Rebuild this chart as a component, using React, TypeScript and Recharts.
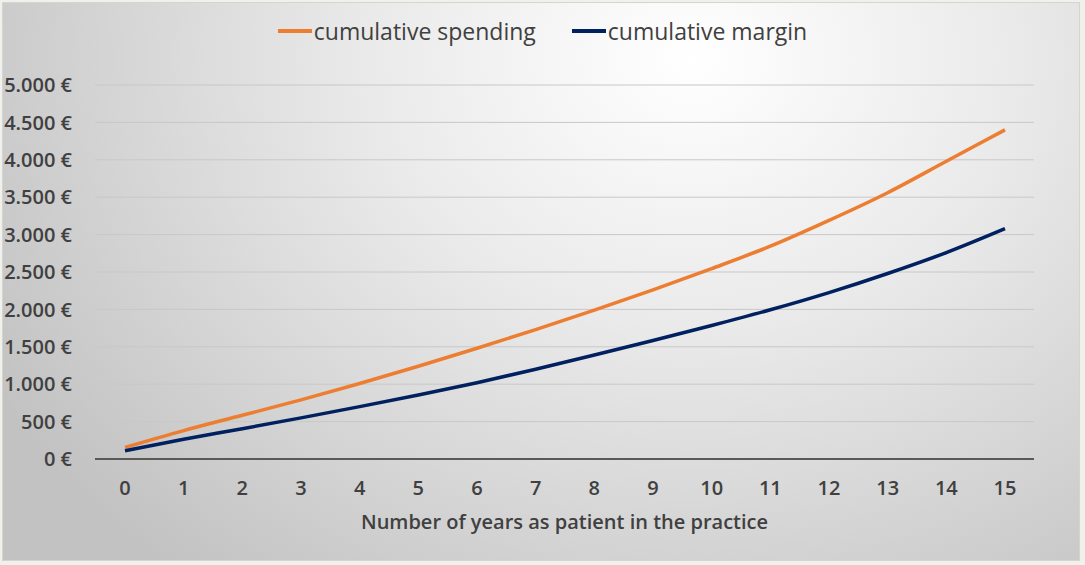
import { CartesianGrid, Label, Legend, Line, LineChart, XAxis, YAxis } from "recharts";

const years = ["0", "1", "2", "3", "4", "5", "6", "7", "8", "9", "10", "11", "12", "13", "14", "15"];
const cumulativeSpending = [155, 380, 585, 790, 1010, 1240, 1480, 1730, 1990, 2260, 2545, 2845, 3190, 3560, 3980, 4400];
const cumulativeMargin = [110, 265, 405, 550, 700, 855, 1020, 1200, 1390, 1585, 1785, 1995, 2225, 2480, 2760, 3080];
const yTicks = [0, 500, 1000, 1500, 2000, 2500, 3000, 3500, 4000, 4500, 5000];
const seriesNames = ["cumulative spending", "cumulative margin"];
const seriesColors = ["#ED7D31", "#002060"];
const xTitle = "Number of years as patient in the practice";

const data = years.map((year, i) => ({
  year,
  spending: cumulativeSpending[i],
  margin: cumulativeMargin[i],
}));

const FONT = "'Open Sans', 'DejaVu Sans', sans-serif";

// 5000 -> "5.000 €"
const formatEuro = (v: number) => `${String(v).replace(/\B(?=(\d{3})+(?!\d))/g, ".")} €`;

function LegendContent() {
  return (
    <div
      style={{
        display: "flex",
        justifyContent: "center",
        alignItems: "center",
        gap: 36,
        height: 42,
        fontFamily: FONT,
      }}
    >
      {seriesNames.map((name, i) => (
        <div key={name} style={{ display: "flex", alignItems: "center" }}>
          <span
            style={{ display: "inline-block", width: 34, height: 4, background: seriesColors[i], marginRight: 2 }}
          />
          <span style={{ fontSize: 23, color: "#404040" }}>{name}</span>
        </div>
      ))}
    </div>
  );
}

export default function App() {
  const tickStyle = { fontSize: 20, fill: "#404040", fontWeight: 600, fontFamily: FONT };
  return (
    <div style={{ position: "absolute", left: 0, top: 0, width: 1085, height: 565, background: "#f1f1ec" }}>
      <div
        style={{
          position: "absolute",
          left: 2,
          top: 2,
          width: 1076,
          height: 557,
          border: "1px solid #d4d4d4",
          background:
            "radial-gradient(ellipse 75% 120% at 64% 10%, #ffffff 0%, #eaeaea 40%, #c2c2c2 100%)",
        }}
      />
      <div style={{ position: "absolute", left: 0, top: 0 }}>
        <LineChart width={1085} height={565} data={data} margin={{ top: 43, right: 51, bottom: 31, left: 10 }}>
          <CartesianGrid vertical={false} stroke="#c8c8c8" strokeWidth={1} />
          <XAxis
            dataKey="year"
            interval={0}
            padding={{ left: 30, right: 29 }}
            axisLine={{ stroke: "#595959", strokeWidth: 2 }}
            tickLine={false}
            tickSize={0}
            tickMargin={22}
            height={75}
            tick={tickStyle}
          >
            <Label
              value={xTitle}
              position="insideBottom"
              offset={5}
              style={{ fontSize: 20, fill: "#404040", fontWeight: 600, fontFamily: FONT }}
            />
          </XAxis>
          <YAxis
            domain={[0, 5000]}
            ticks={yTicks}
            tickFormatter={formatEuro}
            axisLine={false}
            tickLine={false}
            tickSize={0}
            tickMargin={23}
            width={85}
            tick={tickStyle}
          />
          <Legend
            verticalAlign="top"
            content={() => <LegendContent />}
            wrapperStyle={{ top: 10, left: 0, width: 1085 }}
          />
          <Line
            type="monotone"
            dataKey="spending"
            name={seriesNames[0]}
            stroke={seriesColors[0]}
            strokeWidth={3.5}
            dot={false}
            isAnimationActive={false}
          />
          <Line
            type="monotone"
            dataKey="margin"
            name={seriesNames[1]}
            stroke={seriesColors[1]}
            strokeWidth={3.5}
            dot={false}
            isAnimationActive={false}
          />
        </LineChart>
      </div>
    </div>
  );
}
